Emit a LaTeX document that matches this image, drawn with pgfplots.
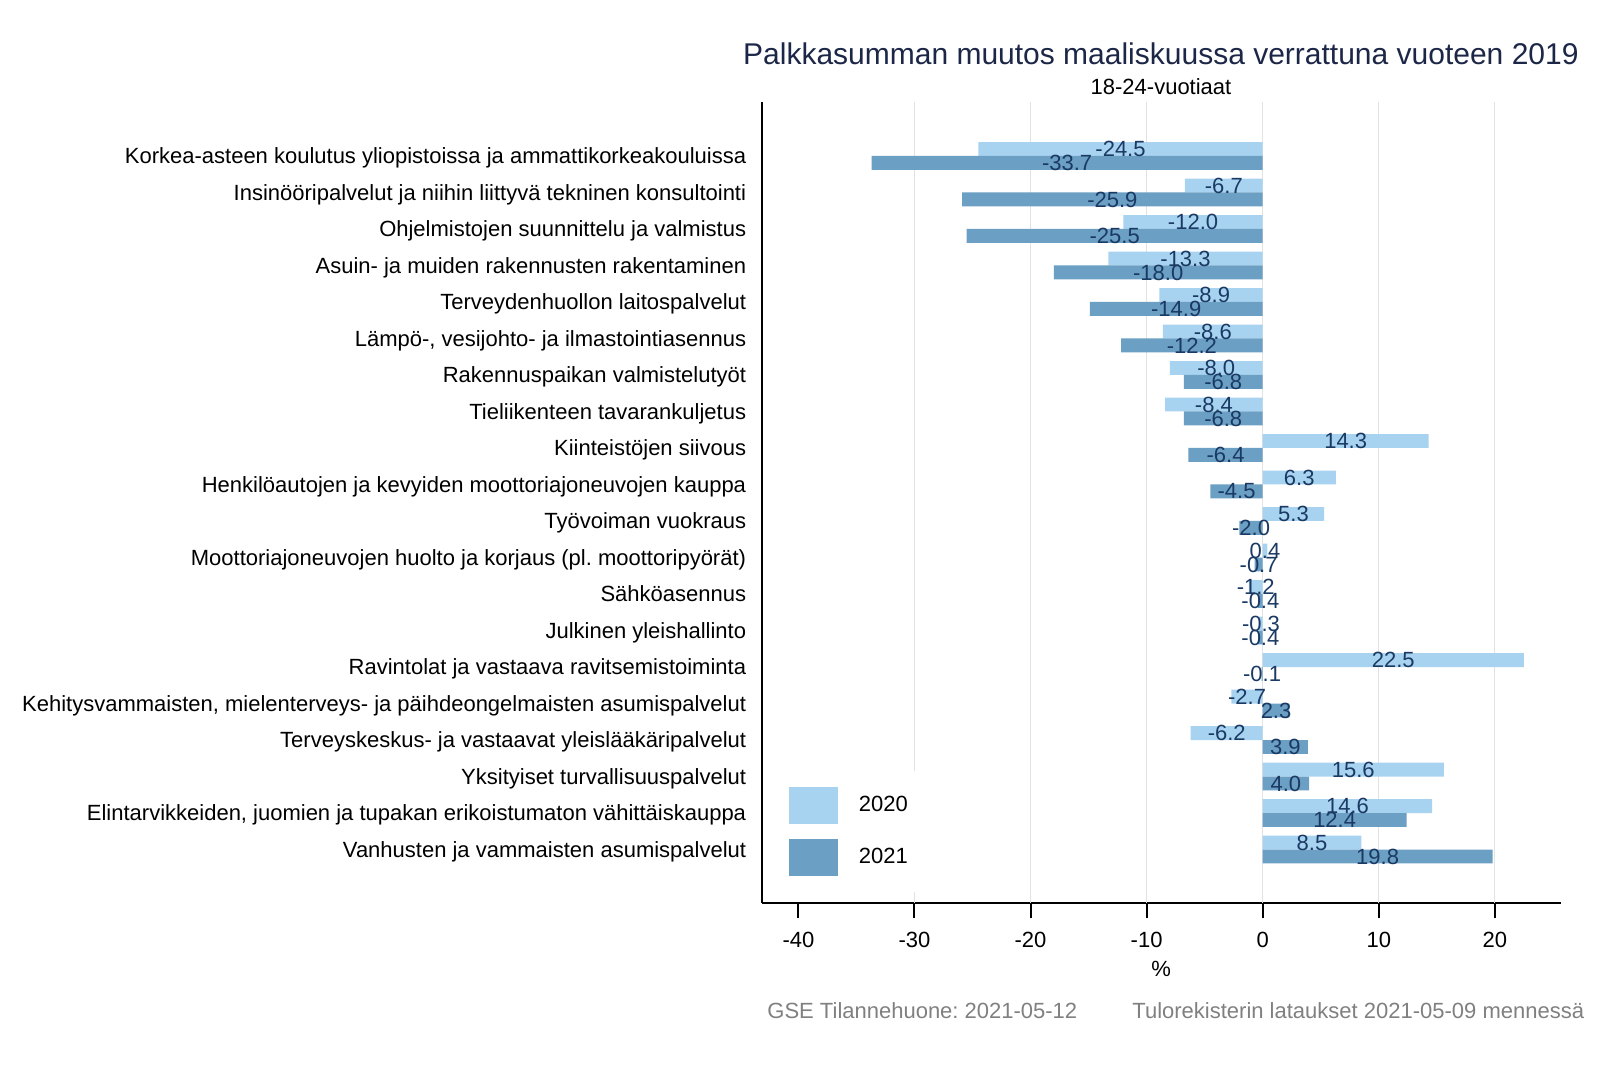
\documentclass[border=0pt]{standalone}
\usepackage{fontspec}
\setmainfont{Liberation Sans}
\usepackage{pgfplots}
\usepackage{pgfplotstable}
\pgfplotsset{compat=1.18}
\definecolor{c20}{RGB}{168,211,240}
\definecolor{c21}{RGB}{107,159,195}
\definecolor{lblc}{RGB}{26,57,99}
\definecolor{titlec}{RGB}{28,39,72}
\definecolor{gridc}{RGB}{226,226,226}
\definecolor{notec}{RGB}{128,128,128}
\pgfplotsset{mylegimg/.style={legend image code/.code={\fill[##1] (0pt,-9.25pt) rectangle (24.5pt,9.25pt);}}}
\newcommand{\fs}{\fontsize{11}{13}\selectfont}
\frenchspacing

\pgfplotstableread{
y v20 v21
1 -24.5 -33.7
2 -6.7 -25.9
3 -12.0 -25.5
4 -13.3 -18.0
5 -8.9 -14.9
6 -8.6 -12.2
7 -8.0 -6.8
8 -8.4 -6.8
9 14.3 -6.4
10 6.3 -4.5
11 5.3 -2.0
12 0.4 -0.7
13 -1.2 -0.4
14 -0.3 -0.4
15 22.5 -0.1
16 -2.7 2.3
17 -6.2 3.9
18 15.6 4.0
19 14.6 12.4
20 8.5 19.8
}\data

\begin{document}
\begin{tikzpicture}
\useasboundingbox (0,0) rectangle (800pt,533.5pt);
\begin{axis}[
  at={(380.75pt,82pt)}, anchor=south west,
  scale only axis, width=399.75pt, height=400.5pt,
  xmin=-43.18, xmax=25.7,
  ymin=-0.479, ymax=21.466, y dir=reverse,
  axis x line*=bottom, axis y line*=left,
  axis line style={line width=1pt, black},
  xtick={-40,-30,...,20},
  ytick={1,...,20},
  yticklabels={
    Korkea-asteen koulutus yliopistoissa ja ammattikorkeakouluissa,
    Insinööripalvelut ja niihin liittyvä tekninen konsultointi,
    Ohjelmistojen suunnittelu ja valmistus,
    Asuin- ja muiden rakennusten rakentaminen,
    Terveydenhuollon laitospalvelut,
    {Lämpö-, vesijohto- ja ilmastointiasennus},
    Rakennuspaikan valmistelutyöt,
    Tieliikenteen tavarankuljetus,
    Kiinteistöjen siivous,
    Henkilöautojen ja kevyiden moottoriajoneuvojen kauppa,
    Työvoiman vuokraus,
    Moottoriajoneuvojen huolto ja korjaus (pl. moottoripyörät),
    Sähköasennus,
    Julkinen yleishallinto,
    Ravintolat ja vastaava ravitsemistoiminta,
    {Kehitysvammaisten, mielenterveys- ja päihdeongelmaisten asumispalvelut},
    Terveyskeskus- ja vastaavat yleislääkäripalvelut,
    Yksityiset turvallisuuspalvelut,
    {Elintarvikkeiden, juomien ja tupakan erikoistumaton vähittäiskauppa},
    Vanhusten ja vammaisten asumispalvelut},
  ytick style={draw=none},
  xtick style={line width=1pt, black},
  tick align=outside, major tick length=7.5pt,
  extra x ticks={-30,-20,-10,0,10,20},
  extra x tick labels={},
  extra x tick style={grid=major, major tick length=0pt},
  grid style={gridc, line width=0.5pt},
  tick label style={font=\fs, black},
  /pgf/number format/assume math mode=true,
  xticklabel style={yshift=-3.5pt},
  yticklabel style={anchor=base east, inner sep=0pt, yshift=-3.94pt},
  xlabel={\%},
  xlabel style={at={(axis description cs:0.5,0)}, anchor=center, yshift=-32.75pt, font=\fs},
  legend style={at={(axis description cs:0.0125,0.0137)}, anchor=south west,
    fill=white, draw=none, inner xsep=8.5pt, inner ysep=8pt,
    row sep=7.5pt, column sep=10.5pt, nodes={inner sep=0pt},
    font=\fs},
  legend cell align=left,
]
\addplot[xbar, bar width=0.38, bar shift=0pt, fill=c20, draw=none, mylegimg]
  table[x=v20, y expr=\thisrow{y}-0.19]{\data};
\addlegendentry{2020}
\addplot[xbar, bar width=0.38, bar shift=0pt, fill=c21, draw=none, mylegimg]
  table[x=v21, y expr=\thisrow{y}+0.19]{\data};
\addlegendentry{2021}
\addplot[forget plot, draw=none, mark=none, nodes near coords, point meta=explicit symbolic,
  every node near coord/.append style={anchor=center, inner sep=0pt, text=lblc, font=\fs}]
  table[x expr=\thisrow{v20}/2, y expr=\thisrow{y}-0.19, meta=v20]{\data};
\addplot[forget plot, draw=none, mark=none, nodes near coords, point meta=explicit symbolic,
  every node near coord/.append style={anchor=center, inner sep=0pt, text=lblc, font=\fs}]
  table[x expr=\thisrow{v21}/2, y expr=\thisrow{y}+0.19, meta=v21]{\data};
\end{axis}
\node[anchor=base east, text=titlec, font=\fontsize{15}{18}\selectfont, inner sep=0pt] at (789.5pt,501pt) {Palkkasumman muutos maaliskuussa verrattuna vuoteen 2019};
\node[anchor=base, font=\fs, inner sep=0pt] at (580.5pt,486pt) {18-24-vuotiaat};
\node[anchor=base west, text=notec, font=\fs, inner sep=0pt] at (383.5pt,24.5pt) {GSE Tilannehuone: 2021-05-12};
\node[anchor=base west, text=notec, font=\fs, inner sep=0pt] at (566pt,24.5pt) {Tulorekisterin lataukset 2021-05-09 mennessä};
\end{tikzpicture}
\end{document}
